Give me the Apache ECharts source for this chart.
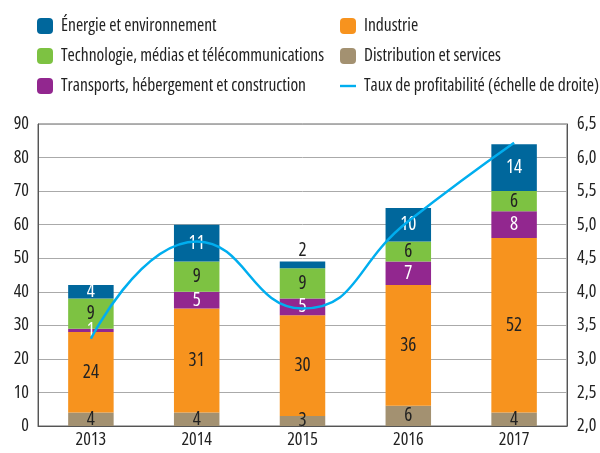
<!DOCTYPE html>
<html><head><meta charset="utf-8">
<script src="https://cdn.jsdelivr.net/npm/echarts@6/dist/echarts.min.js"></script>
<style>html,body{margin:0;padding:0;background:#fff}#c{width:600px;height:453px}</style>
</head><body><div id="c"></div>
<script>
const years = ['2013','2014','2015','2016','2017'];
const distribution = [4, 4, 3, 6, 4];
const industrie = [24, 31, 30, 36, 52];
const transports = [1, 5, 5, 7, 8];
const technologie = [9, 9, 9, 6, 6];
const energie = [4, 11, 2, 10, 14];
const profitabilite = [3.3, 4.75, 3.75, 5.05, 6.22];
const leftTicks = {min: 0, max: 90, interval: 10};
const rightTicks = {min: 2.0, max: 6.5, interval: 0.5};

const FONT = "'Open Sans', sans-serif";
const FW = 'condensed';
const chart = echarts.init(document.getElementById('c'));
function barSeries(name, data, color, labelColor, extra) {
  return {
    name, type: 'bar', stack: 'total', barWidth: '43%', yAxisIndex: 0,
    data: data.map((v, i) => (extra && extra[i]) ? Object.assign({value: v}, extra[i]) : v),
    itemStyle: {color},
    label: {show: true, position: 'inside', color: labelColor, fontFamily: FONT, fontWeight: FW, fontSize: 19},
    emphasis: {disabled: true}
  };
}
const legendText = {fontFamily: FONT, fontWeight: FW, fontSize: 17.5, color: '#222', padding: [0, 0, 0, 3]};
chart.setOption({
  animation: false,
  textStyle: {fontFamily: FONT, fontWeight: FW},
  legend: [
    {left: 37, top: 17, padding: 0, orient: 'vertical', itemWidth: 16, itemHeight: 16, itemGap: 12,
     textStyle: legendText,
     data: ['Énergie et environnement', 'Technologie, médias et télécommunications', 'Transports, hébergement et construction']},
    {left: 340, top: 17, padding: 0, orient: 'vertical', itemWidth: 16, itemHeight: 16, itemGap: 12,
     textStyle: legendText,
     data: ['Industrie', 'Distribution et services',
       {name: 'Taux de profitabilité (échelle de droite)', icon: 'path://M0,0H20V3H0Z'}]}
  ],
  grid: {left: 38, right: 33, top: 124, bottom: 27, show: true, borderColor: '#666', borderWidth: 1},
  xAxis: {
    type: 'category', data: years,
    axisLine: {lineStyle: {color: '#555'}}, axisTick: {show: false},
    axisLabel: {color: '#222', fontFamily: FONT, fontWeight: FW, fontSize: 18, margin: 5}
  },
  yAxis: [
    {type: 'value', min: leftTicks.min, max: leftTicks.max, interval: leftTicks.interval,
     axisLine: {show: true, lineStyle: {color: '#555'}},
     axisLabel: {color: '#222', fontFamily: FONT, fontWeight: FW, fontSize: 18, margin: 9},
     splitLine: {lineStyle: {color: '#aaa', width: 1}}},
    {type: 'value', min: rightTicks.min, max: rightTicks.max, interval: rightTicks.interval,
     position: 'right', axisLine: {show: true, lineStyle: {color: '#555'}},
     axisLabel: {color: '#222', fontFamily: FONT, fontWeight: FW, fontSize: 18, margin: 10,
       formatter: v => v.toFixed(1).replace('.', ',')},
     splitLine: {show: false}}
  ],
  series: [
    barSeries('Distribution et services', distribution, '#a39171', '#222'),
    barSeries('Industrie', industrie, '#f7931e', '#222'),
    barSeries('Transports, hébergement et construction', transports, '#92278f', '#fff'),
    barSeries('Technologie, médias et télécommunications', technologie, '#7dc242', '#222'),
    barSeries('Énergie et environnement', energie, '#00679c', '#fff',
      [null, null, {label: {position: 'top', color: '#222', distance: 1}}, null, null]),
    {name: 'Taux de profitabilité (échelle de droite)', type: 'line', yAxisIndex: 1,
     data: profitabilite, smooth: 0.5, symbol: 'none',
     lineStyle: {color: '#00aeef', width: 2.5}, itemStyle: {color: '#00aeef'}, z: 10}
  ]
});
</script></body></html>
